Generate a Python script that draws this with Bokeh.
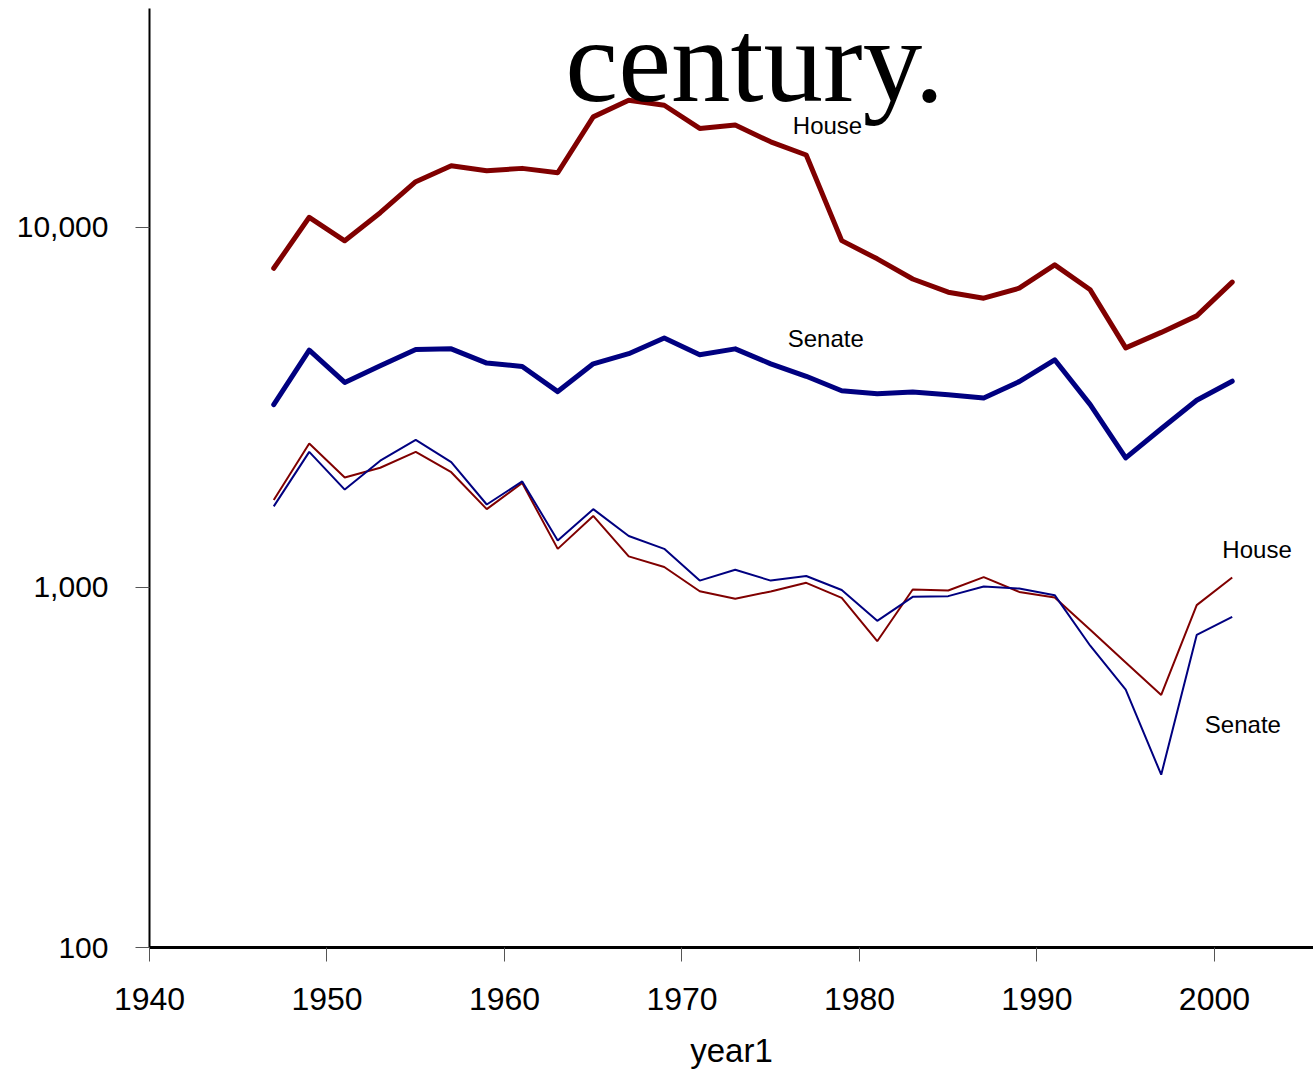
from bokeh.plotting import figure
from bokeh.models import Range1d, FixedTicker, NumeralTickFormatter, Label
from bokeh.embed import file_html
from bokeh.resources import INLINE

years = [1947, 1949, 1951, 1953, 1955, 1957, 1959, 1961, 1963, 1965, 1967, 1969, 1971, 1973,
         1975, 1977, 1979, 1981, 1983, 1985, 1987, 1989, 1991, 1993, 1995, 1997, 1999, 2001]

house_thick = [7700, 10670, 9180, 10990, 13400, 14830, 14370, 14590, 14190, 20280, 22560, 21850, 18840, 19240,
               17290, 15890, 9190, 8180, 7190, 6610, 6360, 6780, 7870, 6710, 4630, 5110, 5680, 7050]
senate_thick = [3220, 4560, 3710, 4130, 4580, 4600, 4200, 4110, 3500, 4180, 4460, 4930, 4430, 4600,
                4180, 3860, 3520, 3450, 3490, 3430, 3360, 3730, 4290, 3220, 2290, 2760, 3310, 3740]
house_thin = [1750, 2510, 2020, 2150, 2380, 2090, 1650, 1950, 1280, 1580, 1220, 1140, 976, 930,
              975, 1030, 936, 709, 987, 981, 1068, 972, 938, 763, 619, 503, 893, 1066]
senate_thin = [1680, 2380, 1870, 2250, 2570, 2230, 1700, 1970, 1350, 1650, 1390, 1280, 1045, 1120,
               1045, 1076, 984, 808, 942, 946, 1006, 993, 952, 689, 520, 302, 738, 829]

y_ticks = [100, 1000, 10000]
x_ticks = [1940, 1950, 1960, 1970, 1980, 1990, 2000]

RED = "#800000"
BLUE = "#000080"

p = figure(width=1313, height=1071, y_axis_type="log", output_backend="svg", toolbar_location=None,
           x_range=Range1d(1940, 2005.58), y_range=Range1d(100, 40560),
           min_border_left=149, min_border_right=0, min_border_top=8, min_border_bottom=122)
p.outline_line_color = None
p.grid.visible = False
p.background_fill_color = "white"
p.border_fill_color = "white"

p.line(years, house_thick, line_color=RED, line_width=5, line_join="round", line_cap="round")
p.line(years, senate_thick, line_color=BLUE, line_width=5, line_join="round", line_cap="round")
p.line(years, house_thin, line_color=RED, line_width=2)
p.line(years, senate_thin, line_color=BLUE, line_width=2)

# axes
p.xaxis.ticker = FixedTicker(ticks=x_ticks)
p.yaxis.ticker = FixedTicker(ticks=y_ticks)
p.yaxis.formatter = NumeralTickFormatter(format="0,0")
for ax in (p.xaxis[0], p.yaxis[0]):
    ax.major_tick_out = 14
    ax.major_tick_in = 0
    ax.minor_tick_out = 0
    ax.minor_tick_in = 0
    ax.major_tick_line_color = "#555555"
    ax.major_tick_line_width = 1
    ax.axis_line_color = "black"
    ax.major_label_text_font = "Liberation Sans"
    ax.major_label_text_color = "black"
p.xaxis.axis_line_width = 3
p.yaxis.axis_line_width = 2
p.xaxis.major_label_text_font_size = "32px"
p.yaxis.major_label_text_font_size = "30px"
p.xaxis.major_label_standoff = 26
p.yaxis.major_label_standoff = 27
p.xaxis.axis_label = "year1"
p.xaxis.axis_label_text_font = "Liberation Sans"
p.xaxis.axis_label_text_font_style = "normal"
p.xaxis.axis_label_text_font_size = "33px"
p.xaxis.axis_label_text_color = "black"
p.xaxis.axis_label_standoff = 19

# text annotations
def lab(x, y, t, size, font="Liberation Sans"):
    p.add_layout(Label(x=x, y=y, text=t, text_font=font, text_font_size=size,
                       text_align="center", text_baseline="middle", text_color="black"))

lab(1974.1, 28940, "century.", "119px", font="Liberation Serif")
lab(1978.2, 19240, "House", "24px")
lab(1978.1, 4909, "Senate", "24px")
lab(2002.4, 1272, "House", "24px")
lab(2001.6, 417, "Senate", "24px")

open("out.html", "w").write(file_html(p, INLINE))
